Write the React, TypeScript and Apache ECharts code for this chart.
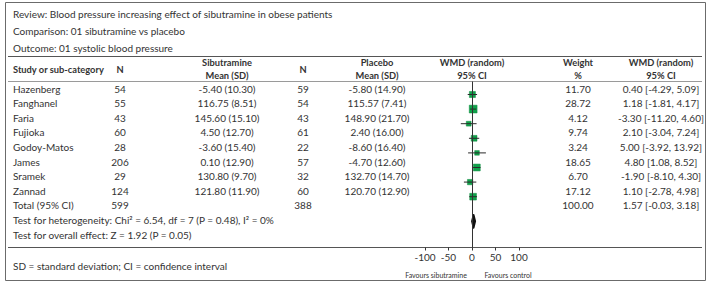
import React, { useEffect, useRef } from "react";
import * as echarts from "echarts";

const reviewTitle = "Review: Blood pressure increasing effect of sibutramine in obese patients";
const comparisonTitle = "Comparison: 01 sibutramine vs placebo";
const outcomeTitle = "Outcome: 01 systolic blood pressure";

const studies = ["Hazenberg", "Fanghanel", "Faria", "Fujioka", "Godoy-Matos", "James", "Sramek", "Zannad"];
const nTreat = [54, 55, 43, 60, 28, 206, 29, 124];
const meanTreat = [-5.4, 116.75, 145.6, 4.5, -3.6, 0.1, 130.8, 121.8];
const sdTreat = [10.3, 8.51, 15.1, 12.7, 15.4, 12.9, 9.7, 11.9];
const nCtrl = [59, 54, 43, 61, 22, 57, 32, 60];
const meanCtrl = [-5.8, 115.57, 148.9, 2.4, -8.6, -4.7, 132.7, 120.7];
const sdCtrl = [14.9, 7.41, 21.7, 16.0, 16.4, 12.6, 14.7, 12.9];
const weights = [11.7, 28.72, 4.12, 9.74, 3.24, 18.65, 6.7, 17.12];
const wmd = [0.4, 1.18, -3.3, 2.1, 5.0, 4.8, -1.9, 1.1];
const ciLow = [-4.29, -1.81, -11.2, -3.04, -3.92, 1.08, -8.1, -2.78];
const ciHigh = [5.09, 4.17, 4.6, 7.24, 13.92, 8.52, 4.3, 4.98];

const totalLabel = "Total (95% CI)";
const totalN1 = 599;
const totalN2 = 388;
const totalWeight = 100.0;
const totalWmd = 1.57;
const totalLo = -0.03;
const totalHi = 3.18;

const heterogeneity = "Test for heterogeneity: Chi\u00B2 = 6.54, df = 7 (P = 0.48), I\u00B2 = 0%";
const overallEffect = "Test for overall effect: Z = 1.92 (P = 0.05)";
const footnote = "SD = standard deviation; CI = confidence interval";
const scaleTicks = [-100, -50, 0, 50, 100];
const favoursLeft = "Favours sibutramine";
const favoursRight = "Favours control";

const FONT = "Lato, 'Open Sans', sans-serif";
const FS = 10;
const TXT = "#333333";

const f2 = (v: number) => v.toFixed(2);
const ciText = (m: number, lo: number, hi: number) => `${f2(m)} [${f2(lo)}, ${f2(hi)}]`;

const COL = { study: 13, n1: 120, sib: 227, n2: 303, plc: 377, plot: 472, w: 578, ci: 661 };
const ROW0 = 88.5;
const STEP = 14.6;

function txt(text: string, x: number, y: number, align = "left", extra: any = {}) {
  return {
    type: "text",
    x,
    y,
    silent: true,
    style: {
      text,
      fill: TXT,
      fontFamily: FONT,
      fontSize: FS,
      align,
      verticalAlign: "middle",
      ...extra,
    },
  };
}

function hline(x1: number, x2: number, y: number, color: string) {
  return { type: "line", silent: true, shape: { x1, y1: y, x2, y2: y }, style: { stroke: color, lineWidth: 1 } };
}

export default function App() {
  const ref = useRef<HTMLDivElement>(null);
  useEffect(() => {
    if (!ref.current) return;
    const chart = echarts.init(ref.current, null, { renderer: "svg" });

    const graphics: any[] = [];
    graphics.push({
      type: "rect",
      silent: true,
      shape: { x: 5.5, y: 2.5, width: 700, height: 278 },
      style: { fill: "none", stroke: "#6b6b6b", lineWidth: 1 },
    });
    graphics.push(txt(reviewTitle, 13, 14));
    graphics.push(txt(comparisonTitle, 13, 31));
    graphics.push(txt(outcomeTitle, 13, 48));
    graphics.push(hline(8, 702, 56.5, "#555555"));
    graphics.push(hline(8, 702, 81.5, "#9a9a9a"));
    graphics.push(hline(8, 702, 247.5, "#555555"));

    const bold = { fontWeight: "bold", fontSize: 9.3 };
    graphics.push(txt("Study or sub-category", COL.study, 69, "left", bold));
    graphics.push(txt("N", COL.n1, 69, "center", bold));
    graphics.push(txt("Sibutramine", COL.sib, 62.5, "center", bold));
    graphics.push(txt("Mean (SD)", COL.sib, 75.5, "center", bold));
    graphics.push(txt("N", COL.n2, 69, "center", bold));
    graphics.push(txt("Placebo", COL.plc, 62.5, "center", bold));
    graphics.push(txt("Mean (SD)", COL.plc, 75.5, "center", bold));
    graphics.push(txt("WMD (random)", COL.plot, 62.5, "center", bold));
    graphics.push(txt("95% CI", COL.plot, 75.5, "center", bold));
    graphics.push(txt("Weight", COL.w, 62.5, "center", bold));
    graphics.push(txt("%", COL.w, 75.5, "center", bold));
    graphics.push(txt("WMD (random)", COL.ci, 62.5, "center", bold));
    graphics.push(txt("95% CI", COL.ci, 75.5, "center", bold));

    studies.forEach((s, i) => {
      const y = ROW0 + i * STEP;
      graphics.push(txt(s, COL.study, y));
      graphics.push(txt(String(nTreat[i]), COL.n1, y, "center"));
      graphics.push(txt(`${f2(meanTreat[i])} (${f2(sdTreat[i])})`, COL.sib, y, "center"));
      graphics.push(txt(String(nCtrl[i]), COL.n2, y, "center"));
      graphics.push(txt(`${f2(meanCtrl[i])} (${f2(sdCtrl[i])})`, COL.plc, y, "center"));
      graphics.push(txt(f2(weights[i]), COL.w, y, "center"));
      graphics.push(txt(ciText(wmd[i], ciLow[i], ciHigh[i]), COL.ci, y, "center"));
    });
    const ty = ROW0 + studies.length * STEP;
    graphics.push(txt(totalLabel, COL.study, ty));
    graphics.push(txt(String(totalN1), COL.n1, ty, "center"));
    graphics.push(txt(String(totalN2), COL.n2, ty, "center"));
    graphics.push(txt(f2(totalWeight), COL.w, ty, "center"));
    graphics.push(txt(ciText(totalWmd, totalLo, totalHi), COL.ci, ty, "center"));
    graphics.push(txt(heterogeneity, COL.study, ty + STEP));
    graphics.push(txt(overallEffect, COL.study, ty + 2 * STEP));
    graphics.push(txt(footnote, COL.study, 266));
    graphics.push(txt(favoursLeft, 436, 275, "center", { fontSize: 7 }));
    graphics.push(txt(favoursRight, 508, 275, "center", { fontSize: 7 }));

    const forestData = studies.map((s, i) => [wmd[i], i, ciLow[i], ciHigh[i], weights[i]]);
    const totalData = [[totalWmd, studies.length, totalLo, totalHi]];

    chart.setOption({
      animation: false,
      grid: [
        { left: 400, width: 144, top: 81.5, height: 166 },
        { left: 425, width: 94, top: 150, height: 97.5 },
      ],
      xAxis: [
        { type: "value", gridIndex: 0, min: -72, max: 72, show: false },
        {
          type: "value",
          gridIndex: 1,
          min: scaleTicks[0],
          max: scaleTicks[scaleTicks.length - 1],
          interval: scaleTicks[1] - scaleTicks[0],
          axisLine: { show: false },
          axisTick: { show: true, inside: false, length: 3, lineStyle: { color: "#333" } },
          axisLabel: { color: TXT, fontSize: FS, fontFamily: FONT, margin: 4 },
          splitLine: { show: false },
        },
      ],
      yAxis: [
        { type: "value", gridIndex: 0, inverse: true, min: -0.89, max: 10.48, show: false },
        { type: "value", gridIndex: 1, show: false, min: 0, max: 1 },
      ],
      graphic: graphics,
      series: [
        {
          type: "custom",
          xAxisIndex: 0,
          yAxisIndex: 0,
          data: forestData,
          encode: { x: 0, y: 1 },
          renderItem: (params: any, api: any) => {
            const c = api.coord([api.value(0), api.value(1)]);
            const lo = api.coord([api.value(2), api.value(1)]);
            const hi = api.coord([api.value(3), api.value(1)]);
            const size = 3 + 0.9 * Math.sqrt(api.value(4));
            return {
              type: "group",
              children: [
                {
                  type: "rect",
                  shape: { x: c[0] - size / 2, y: c[1] - size / 2, width: size, height: size },
                  style: { fill: "#10a24b", stroke: "#0c8a3e", lineWidth: 0.5 },
                },
                {
                  type: "line",
                  shape: { x1: lo[0], y1: c[1], x2: hi[0], y2: c[1] },
                  style: { stroke: "#2a2a2a", lineWidth: 1 },
                },
              ],
            };
          },
          markLine: {
            silent: true,
            symbol: ["none", "none"],
            label: { show: false },
            lineStyle: { color: "#333", width: 1, type: "solid" },
            data: [{ xAxis: 0 }],
          },
          z: 3,
        },
        {
          type: "custom",
          xAxisIndex: 0,
          yAxisIndex: 0,
          data: totalData,
          encode: { x: 0, y: 1 },
          renderItem: (params: any, api: any) => {
            const c = api.coord([api.value(0), api.value(1)]);
            const lo = api.coord([api.value(2), api.value(1)]);
            const hi = api.coord([api.value(3), api.value(1)]);
            const cy = c[1] + 10;
            const h = 6.5;
            return {
              type: "polygon",
              shape: { points: [[lo[0], cy], [c[0], cy - h], [hi[0], cy], [c[0], cy + h]] },
              style: { fill: "#111", stroke: "#111", lineWidth: 1.8, lineJoin: "round" },
            };
          },
          z: 4,
        },
        { type: "scatter", xAxisIndex: 1, yAxisIndex: 1, data: [] },
      ],
    });
    return () => chart.dispose();
  }, []);
  return <div ref={ref} style={{ position: "absolute", left: 0, top: 0, width: 709, height: 285, background: "#fff" }} />;
}
